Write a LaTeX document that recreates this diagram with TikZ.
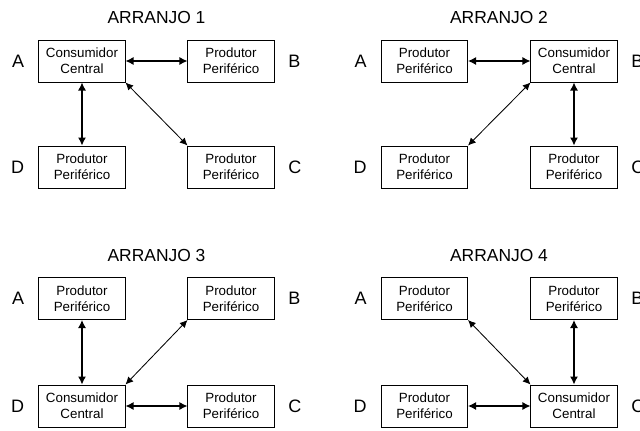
\documentclass[tikz,border=0pt]{standalone}
\usepackage{fontspec}
\setmainfont{Liberation Sans}
\usetikzlibrary{positioning,arrows.meta}

\begin{document}
\begin{tikzpicture}[x=0.025cm,y=-0.025cm,
  caixa/.style={draw,line width=0.7pt,minimum width=2.15cm,minimum height=1.05cm,inner sep=0pt,align=center,font=\fontsize{9.5}{11.3}\selectfont},
  letra/.style={inner sep=0pt,font=\fontsize{12.8}{14}\selectfont},
  titulo/.style={font=\fontsize{12.4}{14}\selectfont},
  seta/.style={<->,>={Latex[length=2mm,width=2mm]},line width=0.9pt},
  diag/.style={<->,>={Latex[length=1.9mm,width=1.8mm]},line width=0.6pt}]
\useasboundingbox (0,0) rectangle (640,430);

% arranjo 1
\node[titulo] (t1) at (156.5,17) {ARRANJO 1};
\node[caixa] (a1) at (82,61) {Consumidor\\Central};
\node[caixa] (b1) at (231,61) {Produtor\\Periférico};
\node[caixa] (d1) at (82,167) {Produtor\\Periférico};
\node[caixa] (c1) at (231,167) {Produtor\\Periférico};
\node[letra,left=0.35cm of a1] (la1) {A};
\node[letra,right=0.34cm of b1] (lb1) {B};
\node[letra,left=0.35cm of d1] (ld1) {D};
\node[letra,right=0.34cm of c1] (lc1) {C};

\draw[seta] (a1) to (b1);
\draw[seta] (a1) to (d1);
\draw[diag] (a1.south east) to (c1.north west);

% arranjo 2
\node[titulo] (t2) at (499,17) {ARRANJO 2};
\node[caixa] (a2) at (424.5,61) {Produtor\\Periférico};
\node[caixa] (b2) at (574,61) {Consumidor\\Central};
\node[caixa] (d2) at (424.5,167) {Produtor\\Periférico};
\node[caixa] (c2) at (574,167) {Produtor\\Periférico};
\node[letra,left=0.35cm of a2] (la2) {A};
\node[letra,right=0.34cm of b2] (lb2) {B};
\node[letra,left=0.35cm of d2] (ld2) {D};
\node[letra,right=0.34cm of c2] (lc2) {C};

\draw[seta] (a2) to (b2);
\draw[seta] (b2) to (c2);
\draw[diag] (b2.south west) to (d2.north east);

% arranjo 3
\node[titulo] (t3) at (156.5,255) {ARRANJO 3};
\node[caixa] (a3) at (82,298.5) {Produtor\\Periférico};
\node[caixa] (b3) at (231,298.5) {Produtor\\Periférico};
\node[caixa] (d3) at (82,406) {Consumidor\\Central};
\node[caixa] (c3) at (231,406) {Produtor\\Periférico};
\node[letra,left=0.35cm of a3] (la3) {A};
\node[letra,right=0.34cm of b3] (lb3) {B};
\node[letra,left=0.35cm of d3] (ld3) {D};
\node[letra,right=0.34cm of c3] (lc3) {C};

\draw[seta] (a3) to (d3);
\draw[seta] (d3) to (c3);
\draw[diag] (d3.north east) to (b3.south west);

% arranjo 4
\node[titulo] (t4) at (499,255) {ARRANJO 4};
\node[caixa] (a4) at (424.5,298.5) {Produtor\\Periférico};
\node[caixa] (b4) at (574,298.5) {Produtor\\Periférico};
\node[caixa] (d4) at (424.5,406) {Produtor\\Periférico};
\node[caixa] (c4) at (574,406) {Consumidor\\Central};
\node[letra,left=0.35cm of a4] (la4) {A};
\node[letra,right=0.34cm of b4] (lb4) {B};
\node[letra,left=0.35cm of d4] (ld4) {D};
\node[letra,right=0.34cm of c4] (lc4) {C};

\draw[seta] (d4) to (c4);
\draw[seta] (b4) to (c4);
\draw[diag] (a4.south east) to (c4.north west);

\end{tikzpicture}
\end{document}
